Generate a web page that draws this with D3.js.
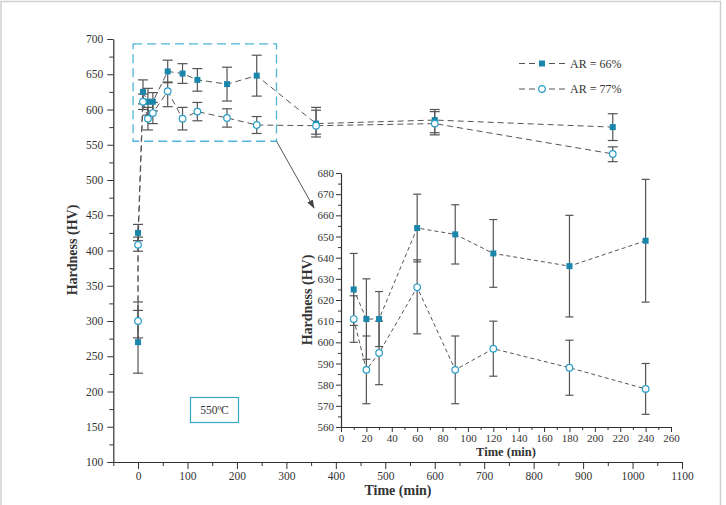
<!DOCTYPE html>
<html><head><meta charset="utf-8">
<script src="https://cdn.jsdelivr.net/npm/d3@7"></script>
<style>
body{margin:0;background:#fff;}
svg text{font-family:"Liberation Serif","DejaVu Serif",serif;fill:#333;}
</style></head>
<body><svg id="c" width="726" height="505"></svg>
<script>
// ---- data ----
const times = [0, 0, 10, 20, 30, 60, 90, 120, 180, 240, 360, 600, 960];
const ar66 = [270, 425, 625, 611, 611, 654, 651, 642, 636, 648, 580, 585, 575];
const ar66Low = [226, 414, 608, 592, 598, 638, 637, 626, 612, 619, 561, 567, 556];
const ar66High = [315, 437, 642, 630, 624, 670, 665, 658, 660, 677, 603, 600, 594];
const ar77 = [300, 408, 611, 587, 595, 626, 587, 597, 588, 578, 577, 580, 537];
const ar77Low = [276, 399, 600, 571, 580, 604, 571, 584, 575, 566, 565, 564, 526];
const ar77High = [327, 419, 622, 603, 610, 639, 603, 610, 601, 590, 599, 597, 547];
const insetStart = 2, insetEnd = 10; // indices 10..240 min
const mainXTicks = [0,100,200,300,400,500,600,700,800,900,1000,1100];
const mainYTicks = [100,150,200,250,300,350,400,450,500,550,600,650,700];
const insetXTicks = [0,20,40,60,80,100,120,140,160,180,200,220,240,260];
const insetYTicks = [560,570,580,590,600,610,620,630,640,650,660,670,680];
const seriesNames = ["AR = 66%", "AR = 77%"];
const zoomBox = {x0:-10, x1:280, y0:555, y1:693};

const svg = d3.select("#c");
const sqColor = "#1a86ab", ciColor = "#2b9fc6", barColor = "#555", lineColor = "#555";
const fmt = d3.format("d");

// frame
svg.append("rect").attr("x",1).attr("y",1.5).attr("width",719.5).attr("height",520)
  .attr("fill","none").attr("stroke","#cfcfcf").attr("stroke-width",1.5);

const series = [
  {v:ar66, lo:ar66Low, hi:ar66High, type:"sq"},
  {v:ar77, lo:ar77Low, hi:ar77High, type:"ci"}
];

function drawPanel(g, x, y, idx, opts){
  series.forEach(s=>{
    idx.forEach(i=>{
      const xx = x(times[i]);
      g.append("line").attr("x1",xx).attr("x2",xx).attr("y1",y(s.lo[i])).attr("y2",y(s.hi[i]))
        .attr("stroke",barColor).attr("stroke-width",1.2);
      [s.lo[i], s.hi[i]].forEach(v=>{
        g.append("line").attr("x1",xx-opts.cap).attr("x2",xx+opts.cap).attr("y1",y(v)).attr("y2",y(v))
          .attr("stroke",barColor).attr("stroke-width",1.2);
      });
    });
  });
  series.forEach(s=>{
    const line = d3.line().x(i=>x(times[i])).y(i=>y(s.v[i]));
    g.append("path").attr("d",line(idx)).attr("fill","none").attr("stroke",lineColor)
      .attr("stroke-width",1).attr("stroke-dasharray",opts.dash);
  });
  series.forEach(s=>{
    idx.forEach(i=>{
      const xx = x(times[i]), yy = y(s.v[i]);
      if(s.type==="sq"){
        g.append("rect").attr("x",xx-opts.sq/2).attr("y",yy-opts.sq/2).attr("width",opts.sq).attr("height",opts.sq)
          .attr("fill",sqColor);
      } else {
        g.append("circle").attr("cx",xx).attr("cy",yy).attr("r",opts.r)
          .attr("fill","#fff").attr("stroke",ciColor).attr("stroke-width",1.2);
      }
    });
  });
}

function styleAxis(sel, fs){
  sel.select(".domain").attr("stroke","#333").attr("stroke-width",1.2);
  sel.selectAll(".tick line").attr("stroke","#333").attr("stroke-width",1);
  sel.selectAll("text").attr("font-size",fs).attr("fill","#333")
    .attr("font-family","'Liberation Serif','DejaVu Serif',serif");
}

// ---- main panel ----
const x = d3.scaleLinear().domain([-50,1100]).range([113.3,682]);
const y = d3.scaleLinear().domain([100,700]).range([462,39]);

const gm = svg.append("g");
const xMinor = d3.range(-50,1101,50).filter(v=>v%100!==0);
const yMinor = d3.range(125,700,50);
gm.append("g").attr("transform","translate(0,462)").call(d3.axisBottom(x).tickValues(xMinor).tickSize(4).tickFormat(""))
  .call(a=>{a.select(".domain").remove(); a.selectAll(".tick line").attr("stroke","#333");});
gm.append("g").attr("transform","translate(113.3,0)").call(d3.axisLeft(y).tickValues(yMinor).tickSize(4).tickFormat(""))
  .call(a=>{a.select(".domain").remove(); a.selectAll(".tick line").attr("stroke","#333");});
const xa = gm.append("g").attr("transform","translate(0,462)")
  .call(d3.axisBottom(x).tickValues(mainXTicks).tickFormat(fmt).tickSize(7).tickSizeOuter(0).tickPadding(3));
styleAxis(xa, 11.5);
const ya = gm.append("g").attr("transform","translate(113.3,0)")
  .call(d3.axisLeft(y).tickValues(mainYTicks).tickFormat(fmt).tickSize(6).tickSizeOuter(0).tickPadding(4));
styleAxis(ya, 11.5);

gm.append("text").attr("x",398).attr("y",495).attr("text-anchor","middle")
  .attr("font-size",14).attr("font-weight","bold").text("Time (min)");
gm.append("text").attr("transform","translate(77,250) rotate(-90)").attr("text-anchor","middle")
  .attr("font-size",14).attr("font-weight","bold").text("Hardness (HV)");

drawPanel(gm, x, y, d3.range(times.length), {cap:5, sq:6, r:3.3, dash:"6,4"});

// zoom box
gm.append("rect").attr("x",x(zoomBox.x0)).attr("y",y(zoomBox.y1))
  .attr("width",x(zoomBox.x1)-x(zoomBox.x0)).attr("height",y(zoomBox.y0)-y(zoomBox.y1))
  .attr("fill","none").attr("stroke","#4fb4da").attr("stroke-width",1.3).attr("stroke-dasharray","9,5");

// arrow
svg.append("defs").append("marker").attr("id","ah").attr("viewBox","0 0 10 10").attr("refX",9).attr("refY",5)
  .attr("markerWidth",9).attr("markerHeight",9).attr("orient","auto-start-reverse")
  .append("path").attr("d","M0,1.5 L10,5 L0,8.5 Z").attr("fill","#444");
svg.append("line").attr("x1",x(zoomBox.x1)).attr("y1",y(zoomBox.y0)).attr("x2",314).attr("y2",208)
  .attr("stroke","#555").attr("stroke-width",1).attr("marker-end","url(#ah)");

// 550ºC box
gm.append("rect").attr("x",190.5).attr("y",397.5).attr("width",48).attr("height",25)
  .attr("fill","#fff").attr("stroke","#3aa6c8").attr("stroke-width",1.2);
gm.append("text").attr("x",214.5).attr("y",414).attr("text-anchor","middle").attr("font-size",11.5).text("550ºC");

// legend
const leg = svg.append("g");
[0,1].forEach(k=>{
  const ly = 63.5 + k*25.5;
  leg.append("line").attr("x1",519).attr("x2",565).attr("y1",ly).attr("y2",ly)
    .attr("stroke",lineColor).attr("stroke-dasharray","6,4").attr("stroke-width",1);
  if(k===0) leg.append("rect").attr("x",539).attr("y",ly-3).attr("width",6).attr("height",6).attr("fill",sqColor);
  else leg.append("circle").attr("cx",542).attr("cy",ly).attr("r",3.3).attr("fill","#fff").attr("stroke",ciColor).attr("stroke-width",1.2);
  leg.append("text").attr("x",570).attr("y",ly+4).attr("font-size",12).text(seriesNames[k]);
});

// ---- inset ----
const xi = d3.scaleLinear().domain([0,260]).range([341,671]);
const yi = d3.scaleLinear().domain([560,680]).range([427,173]);
const gi = svg.append("g");
gi.append("g").attr("transform","translate(0,427)").call(d3.axisBottom(xi).tickValues(d3.range(10,260,20)).tickSize(3).tickFormat(""))
  .call(a=>{a.select(".domain").remove(); a.selectAll(".tick line").attr("stroke","#333");});
gi.append("g").attr("transform","translate(341,0)").call(d3.axisLeft(yi).tickValues(d3.range(565,680,10)).tickSize(3).tickFormat(""))
  .call(a=>{a.select(".domain").remove(); a.selectAll(".tick line").attr("stroke","#333");});
const xia = gi.append("g").attr("transform","translate(0,427)")
  .call(d3.axisBottom(xi).tickValues(insetXTicks).tickFormat(fmt).tickSize(5).tickSizeOuter(0).tickPadding(2));
styleAxis(xia, 11);
const yia = gi.append("g").attr("transform","translate(341,0)")
  .call(d3.axisLeft(yi).tickValues(insetYTicks).tickFormat(fmt).tickSize(5).tickSizeOuter(0).tickPadding(2));
styleAxis(yia, 11);
gi.append("text").attr("x",506).attr("y",456).attr("text-anchor","middle")
  .attr("font-size",12.5).attr("font-weight","bold").text("Time (min)");
gi.append("text").attr("transform","translate(312,300) rotate(-90)").attr("text-anchor","middle")
  .attr("font-size",14).attr("font-weight","bold").text("Hardness (HV)");

drawPanel(gi, xi, yi, d3.range(insetStart, insetEnd), {cap:4, sq:6, r:3.3, dash:"4,3"});
</script></body></html>
